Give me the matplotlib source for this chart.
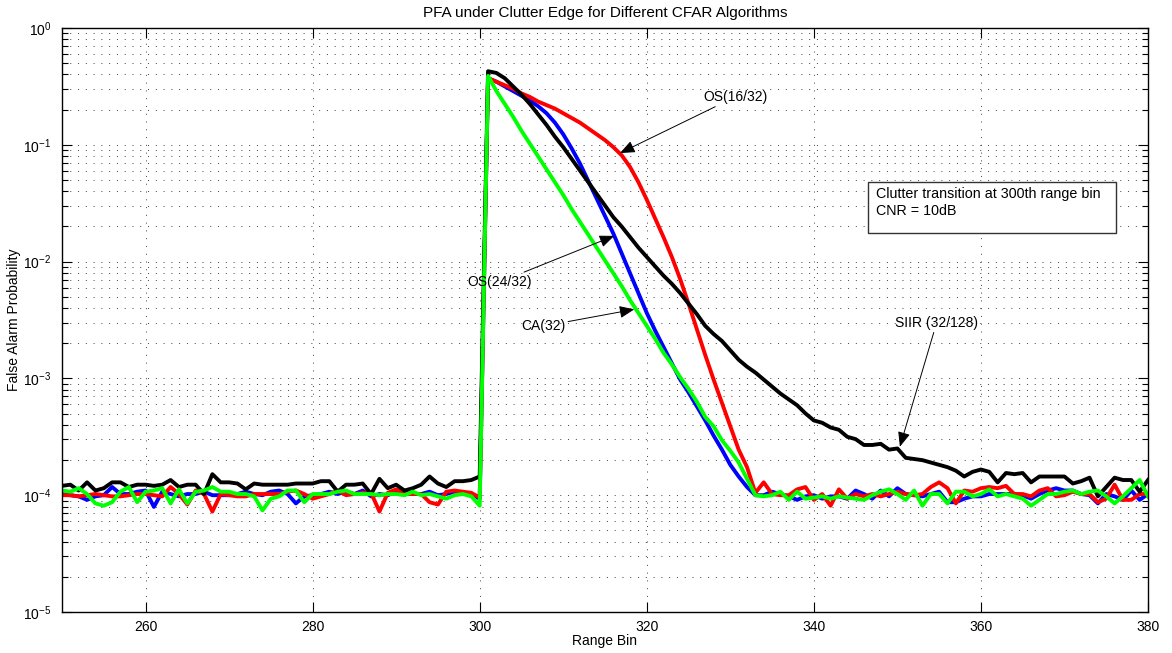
#!/usr/bin/env python3
"""
PFA under clutter edge for different CFAR algorithms
"""
import numpy as np
import matplotlib
matplotlib.use('Agg')
import matplotlib.pyplot as plt
from matplotlib.patches import Rectangle

plt.rcParams['font.family'] = ['Liberation Sans', 'DejaVu Sans']
plt.rcParams['mathtext.fontset'] = 'custom'
plt.rcParams['mathtext.rm'] = 'Liberation Sans'

# range bins 250..380
range_bin = np.arange(250, 381)

# log10(PFA), one value per range bin
os24_log = [
    -3.99, -4.00, -4.01, -4.04, -4.01, -4.00, -3.93, -3.99, -3.99, -3.97,
    -3.96, -4.10, -3.97, -3.99, -4.01, -3.99, -3.99, -3.97, -4.00, -4.00,
    -4.00, -3.99, -3.97, -3.99, -4.00, -3.97, -3.96, -3.99, -4.07, -4.01,
    -4.00, -3.99, -3.97, -3.99, -3.97, -3.99, -3.96, -4.01, -3.99, -4.00,
    -3.97, -3.96, -3.99, -3.99, -3.97, -4.00, -3.99, -3.97, -3.99, -3.99,
    -4.03,
    -0.43, -0.46, -0.50, -0.54, -0.58, -0.62, -0.67, -0.73, -0.81, -0.91,
    -1.03, -1.16, -1.31, -1.46, -1.61, -1.76, -1.93, -2.10, -2.27, -2.44,
    -2.59, -2.73, -2.87, -3.01, -3.12, -3.24, -3.36, -3.49, -3.61, -3.74,
    -3.84, -3.93, -4.00,
    -4.00, -3.97, -3.99, -4.01, -4.04, -4.01, -4.00, -4.03, -4.01,
    -4.01, -4.03, -3.96, -3.99, -4.03, -3.96, -4.01, -3.94, -3.99, -4.00,
    -4.01, -3.99, -3.97, -4.06, -4.06, -4.03, -4.01, -4.01, -3.99, -3.99,
    -3.99, -3.99, -4.00, -4.03, -3.99, -3.96, -3.94, -3.96, -3.96, -3.99,
    -4.00, -4.07, -3.99, -4.01, -4.04, -3.96, -4.04, -3.99,
]

os16_log = [
    -4.00, -4.00, -4.01, -4.00, -3.99, -4.00, -4.01, -4.01, -4.00, -3.99,
    -3.99, -4.00, -4.01, -3.93, -3.99, -4.08, -3.96, -3.99, -4.14, -3.99,
    -4.00, -4.01, -4.01, -3.99, -3.99, -3.99, -3.99, -3.97, -3.96, -3.99,
    -4.03, -4.01, -3.99, -3.96, -4.00, -3.99, -3.98, -3.98, -4.14, -3.98,
    -3.95, -3.99, -3.99, -3.99, -4.06, -4.08, -3.97, -3.96, -3.97, -3.98,
    -4.02,
    -0.43, -0.46, -0.49, -0.52, -0.56, -0.59, -0.63, -0.66, -0.69, -0.73,
    -0.77, -0.81, -0.86, -0.91, -0.96, -1.02, -1.09, -1.19, -1.32, -1.47,
    -1.63, -1.79, -1.96, -2.15, -2.36, -2.58, -2.80, -3.01, -3.21, -3.41,
    -3.61, -3.76, -3.98,
    -3.89, -3.99, -4.00, -4.00, -3.95, -3.93, -4.04, -3.99, -4.09,
    -3.95, -4.03, -3.99, -4.01, -3.99, -4.01, -3.99, -3.97, -3.99, -4.00,
    -3.99, -3.93, -3.89, -3.94, -4.07, -3.96, -3.97, -3.94, -3.93, -3.94,
    -3.92, -3.99, -3.99, -4.01, -3.96, -3.94, -4.01, -4.00, -3.97, -3.99,
    -3.99, -4.06, -4.03, -3.91, -4.04, -4.04, -3.99, -3.99,
]

siir_log = [
    -3.92, -3.91, -3.96, -3.89, -3.96, -3.94, -3.89, -3.89, -3.93, -3.91,
    -3.91, -3.92, -3.91, -3.87, -3.93, -3.91, -3.91, -3.99, -3.82, -3.89,
    -3.89, -3.90, -3.95, -3.90, -3.91, -3.91, -3.91, -3.91, -3.90, -3.90,
    -3.90, -3.88, -3.88, -3.97, -3.91, -3.91, -3.90, -3.99, -3.86, -3.94,
    -3.91, -3.96, -3.94, -3.91, -3.84, -3.90, -3.93, -3.88, -3.88, -3.87,
    -3.84,
    -0.37, -0.385, -0.43, -0.50, -0.57, -0.65, -0.74, -0.83, -0.93, -1.02,
    -1.12, -1.22, -1.32, -1.42, -1.52, -1.62, -1.70, -1.79, -1.88, -1.96,
    -2.04, -2.12, -2.19, -2.27, -2.36, -2.45, -2.55, -2.62, -2.68, -2.76,
    -2.84, -2.90, -2.95,
    -3.01, -3.07, -3.13, -3.18, -3.23, -3.30, -3.36, -3.38, -3.42,
    -3.44, -3.50, -3.52, -3.57, -3.57, -3.56, -3.61, -3.60, -3.68, -3.69,
    -3.70, -3.72, -3.74, -3.76, -3.79, -3.84, -3.80, -3.78, -3.80, -3.89,
    -3.81, -3.82, -3.81, -3.89, -3.84, -3.84, -3.84, -3.84, -3.90, -3.88,
    -3.85, -4.01, -3.93, -3.85, -3.87, -3.87, -3.97, -3.87,
]

ca32_log = [
    -3.96, -3.97, -3.94, -3.99, -4.07, -4.09, -4.06, -3.97, -3.93, -4.06,
    -3.97, -3.96, -3.94, -4.07, -3.95, -4.07, -3.97, -3.96, -3.93, -3.97,
    -3.97, -3.99, -3.99, -4.01, -4.13, -4.03, -4.01, -3.96, -3.96, -4.06,
    -3.99, -3.99, -3.99, -3.97, -3.96, -3.99, -3.99, -3.99, -4.00, -3.99,
    -3.99, -4.00, -3.97, -4.00, -3.99, -4.01, -4.03, -4.00, -3.99, -4.01,
    -4.09,
    -0.41, -0.54, -0.65, -0.76, -0.88, -0.99, -1.10, -1.21, -1.32, -1.43,
    -1.55, -1.66, -1.77, -1.88, -1.99, -2.10, -2.21, -2.33, -2.44, -2.55,
    -2.66, -2.78, -2.88, -2.99, -3.09, -3.20, -3.33, -3.41, -3.53, -3.62,
    -3.72, -3.86, -4.00,
    -4.01, -4.00, -3.97, -4.04, -3.97, -4.03, -4.02, -4.01, -4.03,
    -4.01, -4.02, -4.03, -4.04, -4.00, -3.97, -3.95, -3.99, -4.04, -3.96,
    -4.09, -3.99, -3.99, -4.07, -3.97, -3.97, -4.01, -3.99, -3.95, -4.01,
    -3.99, -4.01, -4.03, -4.09, -4.04, -3.99, -3.99, -3.97, -3.96, -3.99,
    -3.97, -3.96, -4.01, -4.07, -4.01, -3.94, -3.87, -4.01,
]

series = [
    (os24_log, 'b'),
    (os16_log, 'r'),
    (siir_log, 'k'),
    (ca32_log, (0, 1, 0)),
]

fig = plt.figure(figsize=(11.72, 6.53), dpi=100)
ax = fig.add_axes([62 / 1172, 1 - 612 / 653, 1086 / 1172, 584 / 653])

for vals, col in series:
    ax.semilogy(range_bin, 10.0 ** np.array(vals), color=col, lw=2.8)

ax.set_xlim(250, 380)
ax.set_ylim(1e-5, 1)
ax.set_xticks(np.arange(260, 381, 20))

dots = (0, (1, 7))
ax.grid(True, which='major', axis='both', color='0.25', lw=0.7, ls=dots)
ax.grid(True, which='minor', axis='y', color='0.25', lw=0.7, ls=dots)

ax.tick_params(which='both', direction='in', top=True, right=True,
               labelsize=10, width=0.8)
ax.tick_params(which='major', length=7)
ax.tick_params(which='minor', length=4)
ax.tick_params(axis='y', which='both', pad=7.5)
ax.tick_params(axis='x', which='both', pad=6)
for sp in ax.spines.values():
    sp.set_linewidth(1.0)

ax.set_title('PFA under Clutter Edge for Different CFAR Algorithms',
             fontsize=11, pad=8)
ax.set_xlabel('Range Bin', fontsize=10)
ax.set_ylabel('False Alarm Probability', fontsize=10)
ax.xaxis.set_label_coords(0.5, -0.037)
ax.yaxis.set_label_coords(-0.0375, 0.5)

# annotations with arrows
arrow = dict(arrowstyle='-|>,head_length=0.6,head_width=0.25', color='k',
             lw=0.7, mutation_scale=15, shrinkA=0, shrinkB=0)
notes = [
    ('OS(16/32)', (316.8, 0.085), (330.6, 0.257)),
    ('OS(24/32)', (316.1, 0.0166), (302.4, 0.0067)),
    ('CA(32)', (318.5, 0.0039), (307.6, 0.0028)),
    ('SIIR (32/128)', (350.3, 2.6e-4), (354.7, 3.0e-3)),
]
for label, tip, pos in notes:
    ax.annotate(label, xy=tip, xytext=pos, ha='center', va='center',
                fontsize=10, arrowprops=arrow)

ax.add_patch(Rectangle((0.742, 0.649), 0.2285, 0.087, transform=ax.transAxes,
                       facecolor='white', edgecolor='0.2', lw=1.0, zorder=5))
ax.text(0.7495, 0.701, 'Clutter transition at 300th range bin\nCNR = 10dB',
        transform=ax.transAxes, ha='left', va='center', fontsize=10.3,
        linespacing=1.3, zorder=6)

fig.savefig('out.png', dpi=100)
